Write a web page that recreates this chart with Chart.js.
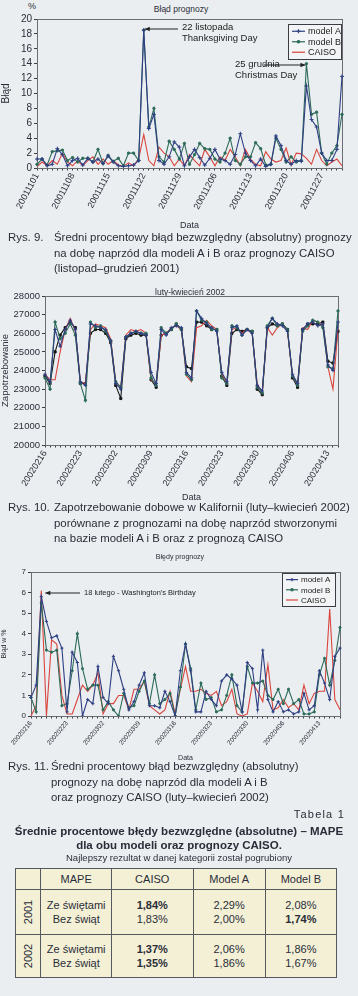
<!DOCTYPE html>
<html>
<head>
<meta charset="utf-8">
<script src="https://cdn.jsdelivr.net/npm/chart.js@4.4.1/dist/chart.umd.min.js"></script>
<style>
  body { margin:0; width:358px; height:996px; background:#eaeef0; position:relative; overflow:hidden;
         font-family:"Liberation Sans", Arial, sans-serif; color:#2a2d38; }
  canvas { position:absolute; left:0; }
  .t { position:absolute; white-space:nowrap; }
  .ttl { font-size:8.5px; transform:translateX(-50%); }
  .cap { position:absolute; left:8px; font-size:11.4px; line-height:15.5px; }
  .cap b { font-weight:normal; position:absolute; left:0; top:0; }
  .cap div { margin-left:46px; white-space:nowrap; }
  table { position:absolute; left:15px; top:868px; width:322px; border-collapse:collapse; background:#f3f0d6;
          font-size:11px; color:#2a2d38; }
  td { border:1px solid #55585e; text-align:center; padding:0; }
  td.yr { width:15px; }
  td.yr span { display:inline-block; transform:rotate(-90deg); font-size:11px; }
  td .l { line-height:14px; }
</style>
</head>
<body>

<div class="t" style="left:28px;top:1px;font-size:9px">%</div>
<div class="t ttl" style="left:181px;top:4px">Błąd prognozy</div>
<canvas id="c1" width="358" height="232" style="top:0"></canvas>
<div class="cap" style="top:230px"><b>Rys. 9.</b>
  <div>Średni procentowy błąd bezwzględny (absolutny) prognozy</div>
  <div>na dobę naprzód dla modeli A i B oraz prognozy CAISO</div>
  <div>(listopad–grudzień 2001)</div>
</div>

<div class="t ttl" style="left:190px;top:287px">luty-kwiecień 2002</div>
<canvas id="c2" width="358" height="222" style="top:282px"></canvas>
<div class="cap" style="top:500px"><b>Rys. 10.</b>
  <div>Zapotrzebowanie dobowe w Kalifornii (luty–kwiecień 2002)</div>
  <div>porównane z prognozami na dobę naprzód stworzonymi</div>
  <div>na bazie modeli A i B oraz z prognozą CAISO</div>
</div>

<div class="t ttl" style="left:180px;top:553px;font-size:7px">Błędy prognozy</div>
<canvas id="c3" width="358" height="213" style="top:550px"></canvas>
<div class="cap" style="top:759px"><b>Rys. 11.</b>
  <div style="margin-left:43px">Średni procentowy błąd bezwzględny (absolutny)</div>
  <div style="margin-left:43px">prognozy na dobę naprzód dla modeli A i B</div>
  <div style="margin-left:43px">oraz prognozy CAISO (luty–kwiecień 2002)</div>
</div>

<div class="t" style="right:13px;top:808px;font-size:11px;letter-spacing:1.2px">Tabela 1</div>
<div class="t" style="left:0;width:358px;text-align:center;top:824px;font-size:11.5px;font-weight:bold;line-height:14px">
  Średnie procentowe błędy bezwzględne (absolutne) – MAPE<br>dla obu modeli oraz prognozy CAISO.</div>
<div class="t" style="left:0;width:358px;text-align:center;top:852px;font-size:9.5px">Najlepszy rezultat w danej kategorii został pogrubiony</div>
<table id="tab"></table>

<script>
// ---- dane: rys. 9 (listopad-grudzień 2001), błąd w %
const start01 = "2001-11-01";
const errA01 = [1.2,1.2,0.3,0.5,2.6,1.8,0.3,1.0,1.3,0.4,1.3,0.8,1.2,0.6,1.6,0.8,0.3,0.2,0.3,0.4,1.0,
  18.5,5.3,7.2,1.0,0.5,1.5,3.5,2.8,0.3,1.5,2.5,1.4,0.4,1.3,2.5,1.2,1.0,0.5,1.8,4.6,2.0,1.0,0.3,1.2,0.2,
  0.5,4.3,3.0,1.0,0.5,1.0,0.9,11.0,6.5,5.5,2.0,1.0,1.0,2.5,12.3];
const errB01 = [0.5,1.2,0.4,2.2,2.3,2.4,1.0,1.4,0.8,1.3,1.3,0.8,2.5,0.6,1.7,0.9,1.3,0.3,2.0,2.0,1.0,
  18.5,5.5,8.0,1.5,0.8,3.6,2.5,1.2,3.3,0.5,1.8,3.3,2.6,2.5,1.2,0.8,2.0,4.0,1.0,0.5,1.5,1.5,3.4,2.6,0.4,
  0.5,4.0,2.5,0.8,1.5,0.8,1.0,14.0,7.2,7.5,2.0,0.5,2.0,3.0,7.2];
const errC01 = [0.2,0.8,0.3,1.0,0.5,2.0,0.8,0.3,1.0,0.3,1.0,1.5,0.5,1.2,0.5,1.0,0.4,0.2,0.7,0.3,1.2,
  4.5,1.0,0.3,2.8,2.0,1.5,0.3,1.2,0.3,1.8,1.0,0.3,2.5,1.5,0.3,1.5,1.0,2.5,1.5,0.3,2.5,1.2,0.5,0.3,2.2,
  1.2,0.8,1.0,2.7,0.4,2.0,1.9,1.3,0.5,2.5,1.0,0.3,0.8,1.2,0.3];

// ---- rys. 10: zapotrzebowanie i prognozy (luty-kwiecień 2002)
const start02 = "2002-02-16";
const demand = [23700,23300,25000,25900,26300,26600,26300,23300,23300,26000,26200,26200,26000,25500,
  23200,22500,25700,25900,26000,25900,25900,23500,23100,25900,26000,26200,26500,26200,24200,24100,
  26600,26600,26400,26200,26200,23700,23200,26000,26200,26100,26200,26100,23000,22700,26300,26500,
  26400,26500,26200,23600,23100,26200,26500,26500,26500,26600,24500,24400,26100];
const fcA02 = [23800,23400,26200,25300,26200,26700,26200,23400,23200,26500,26400,26300,26200,25600,
  23300,23000,25800,26000,26100,26000,25900,23900,23300,26200,25900,26300,26400,26300,23900,23600,
  27200,26800,26500,26300,26100,23900,23400,26300,26400,25900,26200,26000,23200,22900,26300,26800,
  26500,26400,26100,23800,23300,26200,26500,26600,26400,26500,24300,24000,26600];
const fcB02 = [23600,23000,26600,25700,26000,26500,25900,23300,22400,26600,26300,26400,26100,25600,
  23400,23100,25800,26000,26100,26000,26000,23600,23200,26300,26000,26200,26500,26200,23800,23500,
  27200,26700,26600,26200,26200,23600,23300,26400,26300,25900,26200,26100,23100,22800,26400,26800,
  26400,26500,26200,23700,23200,26100,26400,26700,26600,26300,24200,24100,27200];
const fcC02 = [23800,23500,23500,25000,26200,26800,26100,23400,23300,26200,26500,26400,26300,25700,
  23400,23100,25900,26200,26100,26200,26000,23500,23300,25900,26000,26300,26400,26200,23700,23400,
  26300,26400,26700,26400,26200,23800,23300,26200,26300,26000,26200,26000,23300,22800,26300,25900,
  26300,26500,26100,23700,23200,26300,26200,26700,26600,26400,24200,23000,26200];

// ---- rys. 11: błąd w % (luty-kwiecień 2002)
const errA02 = [0.9,1.5,5.8,4.6,3.8,3.9,3.3,0.2,3.1,2.6,0.0,0.8,0.6,2.4,0.9,0.6,2.9,2.2,1.3,0.3,0.7,
  1.5,2.1,0.5,0.5,0.4,1.2,0.7,0.0,2.2,3.5,2.2,0.2,0.2,1.2,0.8,0.5,1.7,2.0,1.8,1.5,0.2,2.6,2.3,0.3,3.2,
  0.8,0.2,0.7,0.2,0.3,0.1,0.2,1.1,0.3,0.5,2.2,1.6,0.8,2.9,3.3];
const errB02 = [0.9,0.2,5.5,3.2,3.1,3.2,0.5,0.6,2.2,4.0,2.3,1.3,1.5,1.5,0.3,0.7,0.3,0.0,1.1,0.4,0.5,
  1.2,1.7,0.6,2.0,0.6,0.8,1.1,0.0,1.4,3.5,2.3,0.3,1.6,0.8,0.9,0.2,0.3,1.0,2.0,0.5,0.2,2.4,1.6,1.6,1.7,
  1.0,0.8,1.3,0.6,1.3,0.6,0.8,0.1,0.1,0.2,2.0,2.8,1.5,2.7,4.3];
const errC02 = [0.0,0.5,6.1,0.0,3.7,3.5,1.0,0.1,0.1,0.8,1.5,1.2,1.5,2.1,0.1,0.6,0.6,1.0,1.0,0.3,1.3,
  1.3,1.7,0.5,0.3,0.1,0.3,1.2,0.1,1.3,2.4,1.2,1.2,1.3,1.1,1.0,1.2,0.5,0.7,1.3,0.1,0.0,0.1,1.6,1.2,0.7,
  2.5,0.3,0.4,0.8,0.4,0.6,0.3,1.5,0.6,1.1,1.2,1.2,5.2,0.8,0.3];

// ---- tabela 1
const tabHead = ["MAPE", "CAISO", "Model A", "Model B"];
const tabYears = ["2001", "2002"];
const tabRows = ["Ze świętami", "Bez świąt"];
const tabCaiso = [["1,84%", "1,83%"], ["1,37%", "1,35%"]];
const tabA = [["2,29%", "2,00%"], ["2,06%", "1,86%"]];
const tabB = [["2,08%", "1,74%"], ["1,86%", "1,67%"]];
const tabBold = [["CAISO0", "B1"], ["CAISO0", "CAISO1"]];

const COL = { A: "#2f3f82", B: "#2c6b58", C: "#d9443c", D: "#151515", axis: "#3a3d44", txt: "#2a2d38" };
const FONT = '"Liberation Sans", Arial, sans-serif';
Chart.defaults.font.family = FONT;
Chart.defaults.color = COL.txt;

function dayLabels(from, n) {
  const out = [];
  const d = new Date(from + "T12:00:00Z");
  for (let i = 0; i < n; i++) {
    out.push(d.toISOString().slice(0, 10).replace(/-/g, ""));
    d.setUTCDate(d.getUTCDate() + 1);
  }
  return out;
}

// ramka wokół wykresu
const frame = {
  id: "frame",
  beforeDatasetsDraw(chart) {
    const a = chart.chartArea, ctx = chart.ctx;
    ctx.save();
    ctx.strokeStyle = "#6a6d74";
    ctx.lineWidth = 1;
    ctx.strokeRect(Math.round(a.left) + 0.5, Math.round(a.top) + 0.5, Math.round(a.width), Math.round(a.height));
    ctx.restore();
  }
};

// legenda w ramce, wewnątrz obszaru wykresu
const boxLegend = {
  id: "boxLegend",
  afterDatasetsDraw(chart, args, o) {
    const ctx = chart.ctx;
    ctx.save();
    ctx.fillStyle = "#f2f4f5";
    ctx.fillRect(o.x, o.y, o.w, o.h);
    ctx.strokeStyle = "#3a3d44";
    ctx.lineWidth = 1;
    ctx.strokeRect(o.x + 0.5, o.y + 0.5, o.w, o.h);
    ctx.font = o.size + "px " + FONT;
    ctx.textBaseline = "middle";
    chart.data.datasets.forEach((ds, i) => {
      const yy = o.y + o.pad + o.row * i + o.row / 2;
      ctx.strokeStyle = ds.borderColor;
      ctx.fillStyle = ds.borderColor;
      ctx.lineWidth = 1.2;
      ctx.beginPath();
      ctx.moveTo(o.x + 4, yy);
      ctx.lineTo(o.x + 4 + o.line, yy);
      ctx.stroke();
      if (ds.pointRadius > 0) {
        Chart.helpers.drawPoint(ctx, { pointStyle: ds.pointStyle, radius: ds.pointRadius, borderWidth: 1, rotation: 0 },
          o.x + 4 + o.line / 2, yy);
      }
      ctx.fillStyle = "#222";
      ctx.fillText(ds.label, o.x + o.line + 7, yy + 0.5);
    });
    ctx.restore();
  }
};

// opisy ze strzałką wskazującą dzień
const notes = {
  id: "notes",
  afterDatasetsDraw(chart, args, o) {
    const ctx = chart.ctx, xs = chart.scales.x;
    ctx.save();
    (o.items || []).forEach((n) => {
      const tip = xs.getPixelForValue(n.index) + n.dx;
      ctx.strokeStyle = "#222";
      ctx.fillStyle = "#222";
      ctx.lineWidth = 1;
      ctx.beginPath();
      ctx.moveTo(n.from, n.ay);
      ctx.lineTo(tip, n.ay);
      ctx.stroke();
      const dir = tip < n.from ? 1 : -1;
      ctx.beginPath();
      ctx.moveTo(tip, n.ay);
      ctx.lineTo(tip + dir * 5, n.ay - 2.2);
      ctx.lineTo(tip + dir * 5, n.ay + 2.2);
      ctx.closePath();
      ctx.fill();
      ctx.font = n.size + "px " + FONT;
      ctx.textBaseline = "middle";
      n.lines.forEach((s, k) => ctx.fillText(s, n.tx, n.ty + k * n.lh));
    });
    ctx.restore();
  }
};

function series(label, data, color, style, r) {
  return {
    label, data, borderColor: color, backgroundColor: color,
    borderWidth: 1.1, pointStyle: style, pointRadius: r, pointBorderWidth: 1,
    pointHoverRadius: r, tension: 0
  };
}

function makeChart(id, o) {
  return new Chart(document.getElementById(id), {
    type: "line",
    data: { labels: o.labels, datasets: o.datasets },
    options: {
      responsive: false,
      animation: false,
      events: [],
      layout: { padding: { left: 0, right: o.padRight, top: o.padTop, bottom: 0 } },
      plugins: { legend: { display: false }, tooltip: { enabled: false },
                 boxLegend: o.legend, notes: { items: o.notes || [] } },
      scales: {
        x: {
          offset: false,
          afterFit: (s) => { s.height = o.xh; },
          border: { display: false },
          grid: { display: true, drawOnChartArea: false, tickLength: 2.5, color: COL.axis },
          ticks: { autoSkip: false, minRotation: o.rot, maxRotation: o.rot, padding: 1,
                   font: { size: o.xfs }, color: COL.txt,
                   callback: (v, i) => (i % 7 === 0 ? o.labels[i] : "") },
          title: { display: true, text: "Data", font: { size: o.dfs }, padding: { top: 0, bottom: 1 } }
        },
        y: {
          min: o.ymin, max: o.ymax,
          afterFit: (s) => { s.width = o.yw; },
          border: { display: false },
          grid: { display: true, drawOnChartArea: false, tickLength: 3, color: COL.axis },
          ticks: { stepSize: o.step, autoSkip: false, font: { size: o.yfs }, color: COL.txt, padding: 2,
                   callback: (v) => String(v) },
          title: { display: true, text: o.ytitle, font: { size: o.ytfs }, padding: { top: 0, bottom: o.ytpad } }
        }
      }
    },
    plugins: [frame, boxLegend, notes]
  });
}

const lab01 = dayLabels(start01, errA01.length);
makeChart("c1", {
  labels: lab01,
  datasets: [
    series("model A", errA01, COL.A, "cross", 2),
    series("model B", errB01, COL.B, "circle", 1.2),
    series("CAISO", errC01, COL.C, "circle", 0)
  ],
  ymin: 0, ymax: 20, step: 2, yw: 37, padRight: 16, padTop: 19, xh: 64, rot: 62,
  xfs: 9, yfs: 10, dfs: 9, ytitle: "Błąd", ytfs: 10, ytpad: 4,
  legend: { x: 288, y: 24, w: 53, h: 35, pad: 2, row: 10.5, line: 13, size: 9 },
  notes: [
    { index: 21, dx: 1, from: 178, ay: 29, tx: 182, ty: 27, lh: 11.5, size: 9.5,
      lines: ["22 listopada", "Thanksgiving Day"] },
    { index: 53, dx: -1, from: 264, ay: 65, tx: 235, ty: 64, lh: 11.5, size: 9.5,
      lines: ["25 grudnia", "Christmas Day"] }
  ]
});

const lab02 = dayLabels(start02, demand.length);
makeChart("c2", {
  labels: lab02,
  datasets: [
    series("model A", fcA02, COL.A, "cross", 1.8),
    series("model B", fcB02, COL.B, "circle", 1.2),
    series("CAISO", fcC02, COL.C, "circle", 0),
    series("zapotrzebowanie", demand, COL.D, "rect", 1.5)
  ],
  ymin: 20000, ymax: 28000, step: 1000, yw: 45, padRight: 20, padTop: 14, xh: 59, rot: 58,
  xfs: 9, yfs: 9.5, dfs: 9, ytitle: "Zapotrzebowanie", ytfs: 9.5, ytpad: 1,
  legend: { x: 259, y: 397, w: 74, h: 45, pad: 1, row: 10.8, line: 11, size: 9 }
});

const lab03 = dayLabels(start02, errA02.length);
makeChart("c3", {
  labels: lab03,
  datasets: [
    series("model A", errA02, COL.A, "cross", 1.6),
    series("model B", errB02, COL.B, "circle", 1.1),
    series("CAISO", errC02, COL.C, "circle", 0)
  ],
  ymin: 0, ymax: 7, step: 1, yw: 31, padRight: 18, padTop: 22, xh: 47, rot: 50,
  xfs: 6.5, yfs: 8, dfs: 7, ytitle: "Błąd w %", ytfs: 7, ytpad: 4,
  legend: { x: 282, y: 23, w: 53, h: 33, pad: 1.5, row: 10.2, line: 12, size: 8 },
  notes: [
    { index: 2, dx: 4, from: 80, ay: 43, tx: 84, ty: 43, lh: 10, size: 7.5,
      lines: ["18 lutego - Washington's Birthday"] }
  ]
});

// tabela
const tab = document.getElementById("tab");
let html = "<tr style='height:21px'><td class='yr'></td>" +
  tabHead.map((h) => "<td>" + h + "</td>").join("") + "</tr>";
function cell(vals, key, g) {
  return "<td>" + vals.map((v, k) => {
    const b = tabBold[g].includes(key + k);
    return "<div class='l'" + (b ? " style='font-weight:bold'" : "") + ">" + v + "</div>";
  }).join("") + "</td>";
}
tabYears.forEach((y, g) => {
  html += "<tr style='height:" + (g === 0 ? 45 : 43) + "px'><td class='yr'><span>" + y + "</span></td>" +
    "<td>" + tabRows.map((r) => "<div class='l'>" + r + "</div>").join("") + "</td>" +
    cell(tabCaiso[g], "CAISO", g) + cell(tabA[g], "A", g) + cell(tabB[g], "B", g) + "</tr>";
});
tab.innerHTML = html;
const cols = [16, 72, 85, 75, 74];
tab.querySelectorAll("tr:first-child td").forEach((td, i) => { td.style.width = cols[i] + "px"; });
</script>
</body>
</html>
